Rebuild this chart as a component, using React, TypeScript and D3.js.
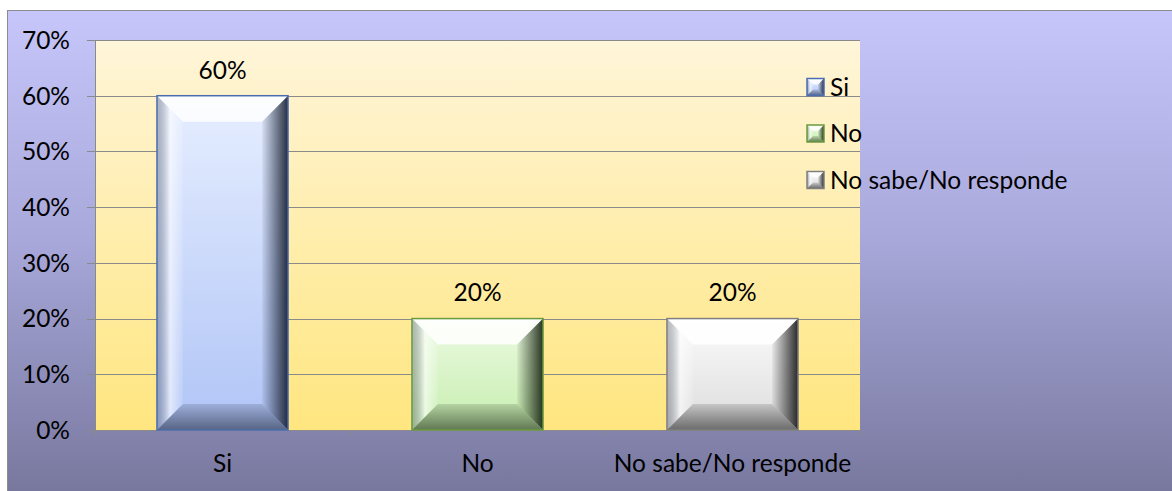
import * as d3 from "d3";

const WIDTH = 1172;
const HEIGHT = 491;
const PLOT = { left: 95, top: 40, right: 860, bottom: 430 };

const categories = ["Si", "No", "No sabe/No responde"];
const values = [0.6, 0.2, 0.2];
const yTicks = [0, 0.1, 0.2, 0.3, 0.4, 0.5, 0.6, 0.7];

// face colours per series: [top, bottom, stroke, shadow]
const palette = [
  ["#e6eeff", "#b0c4f6", "#4a6db0", "#1c2436"],
  ["#ecfae2", "#c6eeae", "#6a9a3e", "#1e2a18"],
  ["#fbfbfb", "#dcdcdc", "#7f7f7f", "#202020"],
];

const FONT = "Lato, 'Open Sans', sans-serif";
const FS = 24.5;

type BevelProps = { x: number; y: number; w: number; h: number; i: number; b: number; idp: string };

const Bevel = ({ x, y, w, h, i, b, idp }: BevelProps) => {
  const [top, bottom, stroke, shadow] = palette[i];
  const bb = Math.min(b, w / 2 - 1, h / 2 - 1);
  const pts = (a: number[][]) => a.map((p) => p.join(",")).join(" ");
  return (
    <g>
      <defs>
        <linearGradient id={`${idp}face${i}`} x1="0" y1="0" x2="0" y2="1">
          <stop offset="0" stopColor={top} />
          <stop offset="1" stopColor={bottom} />
        </linearGradient>
        <linearGradient id={`${idp}right${i}`} x1="0" y1="0" x2="1" y2="0">
          <stop offset="0" stopColor={shadow} stopOpacity={0.05} />
          <stop offset="1" stopColor={shadow} stopOpacity={0.95} />
        </linearGradient>
        <linearGradient id={`${idp}left${i}`} x1="0" y1="0" x2="1" y2="0">
          <stop offset="0" stopColor="#3a4050" stopOpacity={0.35} />
          <stop offset="0.5" stopColor="#ffffff" stopOpacity={0.6} />
          <stop offset="1" stopColor="#ffffff" stopOpacity={0.1} />
        </linearGradient>
        <linearGradient id={`${idp}bottom${i}`} x1="0" y1="0" x2="0" y2="1">
          <stop offset="0" stopColor={shadow} stopOpacity={0.15} />
          <stop offset="1" stopColor={shadow} stopOpacity={0.6} />
        </linearGradient>
      </defs>
      <rect x={x} y={y} width={w} height={h} fill={`url(#${idp}face${i})`} />
      <polygon
        points={pts([[x, y], [x + w, y], [x + w - bb, y + bb], [x + bb, y + bb]])}
        fill="#ffffff"
        fillOpacity={0.85}
      />
      <polygon
        points={pts([[x, y], [x + bb, y + bb], [x + bb, y + h - bb], [x, y + h]])}
        fill={`url(#${idp}left${i})`}
      />
      <polygon
        points={pts([[x + w, y], [x + w, y + h], [x + w - bb, y + h - bb], [x + w - bb, y + bb]])}
        fill={`url(#${idp}right${i})`}
      />
      <polygon
        points={pts([[x, y + h], [x + bb, y + h - bb], [x + w - bb, y + h - bb], [x + w, y + h]])}
        fill={`url(#${idp}bottom${i})`}
      />
      <rect x={x} y={y} width={w} height={h} fill="none" stroke={stroke} strokeWidth={1.5} />
    </g>
  );
};

export default function App() {
  const x = d3
    .scaleBand<string>()
    .domain(categories)
    .range([PLOT.left, PLOT.right])
    .paddingInner(0.486)
    .paddingOuter(0.243);
  const y = d3.scaleLinear().domain([0, 0.7]).range([PLOT.bottom, PLOT.top]);
  const bandEdges = d3.range(categories.length + 1).map((k) => PLOT.left + (k * (PLOT.right - PLOT.left)) / categories.length);

  const legendY = d3.scalePoint<string>().domain(categories).range([87, 180]);

  return (
    <svg
      width={WIDTH}
      height={HEIGHT}
      style={{ position: "absolute", left: 0, top: 0 }}
      fontFamily={FONT}
    >
      <defs>
        <linearGradient id="bg" x1="0" y1="0" x2="0" y2="1">
          <stop offset="0" stopColor="#c6c6fa" />
          <stop offset="0.45" stopColor="#a9a9dc" />
          <stop offset="1" stopColor="#76769c" />
        </linearGradient>
        <linearGradient id="plotbg" x1="0" y1="0" x2="0" y2="1">
          <stop offset="0" stopColor="#fff5d9" />
          <stop offset="1" stopColor="#ffe680" />
        </linearGradient>
      </defs>
      <rect x={0} y={0} width={WIDTH} height={HEIGHT} fill="#ffffff" />
      <rect x={7.5} y={10.5} width={WIDTH} height={HEIGHT} fill="url(#bg)" stroke="#8c8c8c" strokeWidth={1} />
      <rect
        x={PLOT.left}
        y={PLOT.top}
        width={PLOT.right - PLOT.left}
        height={PLOT.bottom - PLOT.top}
        fill="url(#plotbg)"
      />
      {yTicks.map((t) => (
        <g key={t}>
          <line
            x1={PLOT.left - 8}
            x2={PLOT.right}
            y1={Math.round(y(t)) + 0.5}
            y2={Math.round(y(t)) + 0.5}
            stroke="#8a8a8a"
            strokeWidth={1}
          />
          <text x={70} y={y(t)} dy="0.36em" textAnchor="end" fontSize={FS} fill="#000">
            {d3.format(".0%")(t)}
          </text>
        </g>
      ))}
      <line x1={PLOT.left + 0.5} x2={PLOT.left + 0.5} y1={PLOT.top} y2={PLOT.bottom} stroke="#8a8a8a" />
      {bandEdges.map((e, k) => (
        <line key={k} x1={e + 0.5} x2={e + 0.5} y1={PLOT.bottom} y2={PLOT.bottom + 6} stroke="#8a8a8a" />
      ))}
      {categories.map((c, i) => {
        const bx = x(c) as number;
        const by = y(values[i]);
        return (
          <g key={c}>
            <Bevel x={bx} y={by} w={x.bandwidth()} h={PLOT.bottom - by} i={i} b={26} idp="bar" />
            <text x={bx + x.bandwidth() / 2} y={by - 26} dy="0.36em" textAnchor="middle" fontSize={FS}>
              {d3.format(".0%")(values[i])}
            </text>
            <text x={bx + x.bandwidth() / 2} y={PLOT.bottom + 33} dy="0.36em" textAnchor="middle" fontSize={FS}>
              {c}
            </text>
          </g>
        );
      })}
      {categories.map((c, i) => {
        const ly = legendY(c) as number;
        return (
          <g key={`lg${c}`}>
            <Bevel x={807} y={ly - 8.5} w={17} h={17} i={i} b={6} idp="lg" />
            <text x={830} y={ly} dy="0.36em" fontSize={FS}>
              {c}
            </text>
          </g>
        );
      })}
    </svg>
  );
}
